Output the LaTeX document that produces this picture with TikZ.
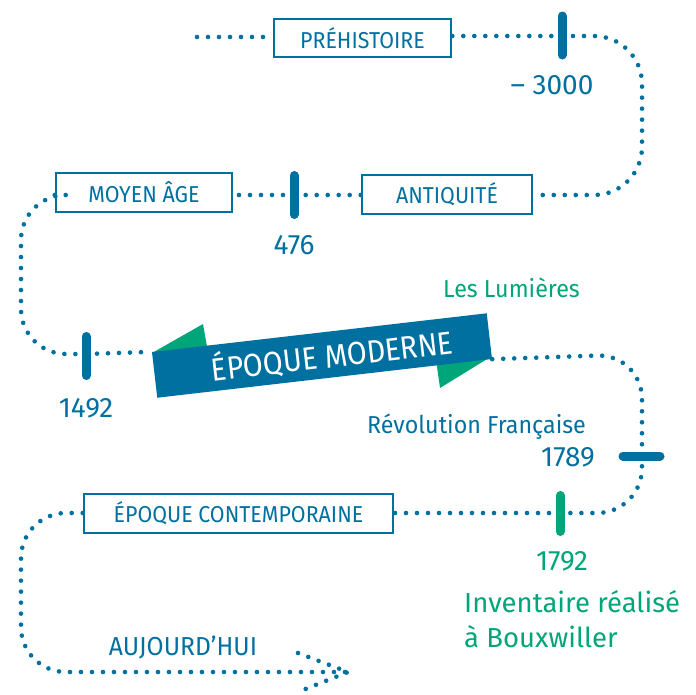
\documentclass[tikz,border=0pt]{standalone}
\usepackage{fontspec}
\setmainfont{Fira Sans}
\newfontfamily\boxfont{Fira Sans}[FakeStretch=0.93]
\newfontfamily\notefont{Fira Sans}[FakeStretch=0.95]
\newfontfamily\bannerfont{Fira Sans}[FakeStretch=0.9]
\usetikzlibrary{calc}
\definecolor{tlblue}{RGB}{0,112,160}
\definecolor{tlgreen}{RGB}{0,165,122}
\tikzset{
  dots/.style={draw=tlblue, line width=4.6pt, line cap=round, dash pattern=on 0pt off 11pt},
  period/.style={draw=tlblue, line width=2.6pt, text=tlblue, inner sep=0pt, font=\boxfont\fontsize{23}{25}\selectfont},
  tick/.style={draw=tlblue, line width=9pt, line cap=round},
  gtick/.style={draw=tlgreen, line width=9pt, line cap=round},
  year/.style={text=tlblue, inner sep=0pt, font=\fontsize{28}{30}\selectfont},
  gyear/.style={text=tlgreen, inner sep=0pt, font=\fontsize{28}{30}\selectfont},
  note/.style={text=tlblue, inner sep=0pt, font=\notefont\fontsize{24.5}{28}\selectfont},
  gnote/.style={text=tlgreen, inner sep=0pt, font=\notefont\fontsize{24.5}{28}\selectfont},
  bignote/.style={text=tlgreen, inner sep=0pt, font=\fontsize{27.5}{30}\selectfont},
}
\begin{document}
\begin{tikzpicture}[x=1pt,y=-1pt]
\useasboundingbox (0,0) rectangle (696,694);
% period boxes
\node[period, minimum width=177pt, minimum height=38pt] (pre) at (362.5,38) {PRÉHISTOIRE};
\node[period, minimum width=170pt, minimum height=39pt] (ant) at (447,194.5) {ANTIQUITÉ};
\node[period, minimum width=176pt, minimum height=39pt] (moy) at (144,192.5) {MOYEN ÂGE};
\node[period, minimum width=309pt, minimum height=39pt] (cont) at (238.5,513.5) {ÉPOQUE CONTEMPORAINE};
% tick coordinates
\coordinate (start) at (197,37);
\coordinate (t3000) at (562,36);
\coordinate (t476) at (294,195);
\coordinate (t1492) at (86,354);
\coordinate (t1789) at (642,456);
\coordinate (t1792) at (560,513);
\coordinate (end) at (348,672);
\coordinate (chevA) at (298,653);
\coordinate (chevB) at (298,692);
% banner
\fill[tlgreen] (152,353) -- (203,324) -- (208,352) -- cycle;
\fill[tlgreen] (492,356) -- (440,388) -- (436,360) -- cycle;
\node[fill=tlblue, rotate=6.6, minimum width=337pt, minimum height=46pt, inner sep=0pt, text=white, font=\bannerfont\fontsize{32}{34}\selectfont] (banner) at (322,355.5) {\hspace*{20pt}ÉPOQUE MODERNE};
% dotted connectors
\draw[dots] (start) -- (pre.west |- start);
\draw[dots] (pre.east |- t3000) -- (t3000);
\draw[dots, rounded corners=48pt] (t3000) -- (642,36) -- (642,195) -- (ant.east |- t476);
\draw[dots] (ant.west |- t476) -- (t476);
\draw[dots] (t476) -- (moy.east |- t476);
\draw[dots, rounded corners=45pt] (moy.west |- t476) -- (21,195) -- (21,354) -- (t1492);
\draw[dots] (t1492) -- (banner.north west);
\draw[dots, rounded corners=45pt] (banner.south east) -- (642,354) -- (642,513) -- (t1792);
\draw[dots] (t1792) -- (cont.east |- t1792);
\draw[dots, rounded corners=45pt] (cont.west |- t1792) -- (21,513) -- (21,672) -- (end);
\draw[dots] (chevA) -- (end) -- (chevB);
% ticks
\draw[tick] ($(t3000)+(0,-20)$) -- ($(t3000)+(0,19)$);
\draw[tick] ($(t476)+(0,-19.5)$) -- ($(t476)+(0,19.5)$);
\draw[tick] ($(t1492)+(0,-17.5)$) -- ($(t1492)+(0,21.5)$);
\draw[tick] ($(t1789)+(-19,0)$) -- ($(t1789)+(18,0)$);
\draw[gtick] ($(t1792)+(0,-17.5)$) -- ($(t1792)+(0,18.5)$);
% labels
\node[year] (l3000) at (552,85) {– 3000};
\node[year] (l476) at (294,245) {476};
\node[year] (l1492) at (86,408) {1492};
\node[year] (l1789) at (568,457) {1789};
\node[gyear] (l1792) at (562,561) {1792};
\node[gnote, anchor=base] (lum) at (511.5,297) {Les Lumières};
\node[note, anchor=base] (rev) at (476.5,433) {Révolution Française};
\node[bignote, anchor=base west] (inv1) at (464,612) {Inventaire réalisé};
\node[bignote, anchor=base west] (inv2) at (464,647) {à Bouxwiller};
\node[text=tlblue, inner sep=0pt, font=\notefont\fontsize{26}{28}\selectfont] (auj) at (183,647) {AUJOURD’HUI};
\end{tikzpicture}
\end{document}
